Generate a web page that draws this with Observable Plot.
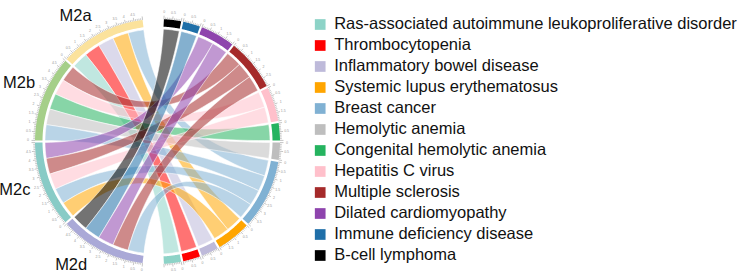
<!DOCTYPE html>
<html><head><meta charset="utf-8">
<script src="https://cdn.jsdelivr.net/npm/d3@7"></script>
<script src="https://cdn.jsdelivr.net/npm/@observablehq/plot@0.6"></script>
<style>
html,body{margin:0;padding:0;background:#fff;}
#chart{display:flex;width:744px;height:280px;overflow:hidden;font-family:"Liberation Sans",Arial,sans-serif;}
#chart svg{display:block;}
</style></head><body><div id="chart"></div><script>
// ---- data ----
const modules = ["M2a", "M2b", "M2c", "M2d"];
const moduleColors = ["#fbe29c", "#a5cf89", "#88cbc6", "#aaa9d7"];
const diseases = [
  "Ras-associated autoimmune leukoproliferative disorder",
  "Thrombocytopenia",
  "Inflammatory bowel disease",
  "Systemic lupus erythematosus",
  "Breast cancer",
  "Hemolytic anemia",
  "Congenital hemolytic anemia",
  "Hepatitis C virus",
  "Multiple sclerosis",
  "Dilated cardiomyopathy",
  "Immune deficiency disease",
  "B-cell lymphoma"
];
const diseaseColors = ["#8dd3c7", "#ff0000", "#bebada", "#ffa500", "#80b1d3", "#bebebe",
  "#25b35f", "#ffc0cb", "#a52a2a", "#8e44ad", "#1f6fa8", "#000000"];
const links = [
  ["M2a", "Breast cancer", 1], ["M2a", "Systemic lupus erythematosus", 1], ["M2a", "Inflammatory bowel disease", 1],
  ["M2a", "Thrombocytopenia", 1], ["M2a", "Ras-associated autoimmune leukoproliferative disorder", 1],
  ["M2b", "Multiple sclerosis", 1], ["M2b", "Hepatitis C virus", 1], ["M2b", "Congenital hemolytic anemia", 1],
  ["M2b", "Hemolytic anemia", 1], ["M2b", "Breast cancer", 1],
  ["M2c", "Dilated cardiomyopathy", 1], ["M2c", "Multiple sclerosis", 1], ["M2c", "Hepatitis C virus", 1],
  ["M2c", "Breast cancer", 1], ["M2c", "Systemic lupus erythematosus", 1],
  ["M2d", "B-cell lymphoma", 1], ["M2d", "Immune deficiency disease", 1], ["M2d", "Dilated cardiomyopathy", 1],
  ["M2d", "Multiple sclerosis", 1], ["M2d", "Breast cancer", 1]
];

// ---- chord layout ----
const DEG = Math.PI / 180;
const startAngle = 3, smallGap = 1, bigGap = 10;
const rOuter = 122.5, rInner = 115, rRibbon = 112.5;
const totalUnits = 2 * d3.sum(links, l => l[2]);
const unit = (360 - 2 * bigGap - (diseases.length - 1 + modules.length - 1) * smallGap) / totalUnits;
const cwDiseases = diseases.slice().reverse();
const cwModules = modules.slice().reverse();

const sectors = [];
let ang = startAngle;
cwDiseases.forEach((d, i) => {
  const v = d3.sum(links.filter(l => l[1] === d), l => l[2]);
  sectors.push({name: d, kind: "disease", color: diseaseColors[diseases.indexOf(d)], a0: ang, a1: ang + v * unit, total: v});
  ang += v * unit + (i < cwDiseases.length - 1 ? smallGap : bigGap);
});
cwModules.forEach((m, i) => {
  const v = d3.sum(links.filter(l => l[0] === m), l => l[2]);
  sectors.push({name: m, kind: "module", color: moduleColors[modules.indexOf(m)], a0: ang, a1: ang + v * unit, total: v});
  ang += v * unit + smallGap;
});
const sec = new Map(sectors.map(s => [s.name, s]));

const linkAngles = links.map(l => ({m: l[0], d: l[1], v: l[2]}));
for (const m of modules) {
  let a = sec.get(m).a0;
  linkAngles.filter(l => l.m === m)
    .sort((p, q) => cwDiseases.indexOf(q.d) - cwDiseases.indexOf(p.d))
    .forEach(l => { l.ma0 = a; l.ma1 = a + l.v * unit; a = l.ma1; });
}
for (const d of diseases) {
  let a = sec.get(d).a0;
  linkAngles.filter(l => l.d === d)
    .sort((p, q) => cwModules.indexOf(q.m) - cwModules.indexOf(p.m))
    .forEach(l => { l.da0 = a; l.da1 = a + l.v * unit; a = l.da1; });
}

const pt = (r, t) => [r * Math.sin(t * DEG), -r * Math.cos(t * DEG)];
function arcPts(r, t0, t1, n = 24) {
  const out = [];
  for (let i = 0; i <= n; i++) out.push(pt(r, t0 + (t1 - t0) * i / n));
  return out;
}
function bez(p0, p2, n = 40) {
  const out = [];
  for (let i = 1; i < n; i++) {
    const t = i / n, k0 = (1 - t) * (1 - t), k2 = t * t;
    out.push([k0 * p0[0] + k2 * p2[0], k0 * p0[1] + k2 * p2[1]]);
  }
  return out;
}

const ribbonPts = [];
linkAngles.forEach((l, i) => {
  const A = arcPts(rRibbon, l.ma0, l.ma1, 12);
  const B = arcPts(rRibbon, l.da0, l.da1, 12);
  const poly = [...A, ...bez(A[A.length - 1], B[0]), ...B, ...bez(B[B.length - 1], A[0])];
  const color = diseaseColors[diseases.indexOf(l.d)];
  poly.forEach(p => ribbonPts.push({id: i, x: p[0], y: p[1], color}));
});

const trackPts = [];
sectors.forEach((s, i) => {
  const poly = [...arcPts(rOuter, s.a0, s.a1, 40), ...arcPts(rInner, s.a1, s.a0, 40)];
  poly.forEach(p => trackPts.push({id: i, x: p[0], y: p[1], color: s.color}));
});

const ticks = [];
sectors.forEach(s => {
  const n = Math.round(s.total * 10);
  for (let k = 0; k <= n; k++) {
    const t = s.a0 + k * unit / 10;
    const major = k % 5 === 0;
    const p1 = pt(rOuter, t), p2 = pt(rOuter + (major ? 3.5 : 1.8), t), p3 = pt(rOuter + 7, t);
    ticks.push({x1: p1[0], y1: p1[1], x2: p2[0], y2: p2[1], major, labelled: major && k < n,
      lx: p3[0], ly: p3[1], label: d3.format("~g")(k / 10)});
  }
});

const moduleLabels = modules.map(m => {
  const s = sec.get(m);
  const mid = (s.a0 + s.a1) / 2 - 360;
  const t = Math.max(-145, Math.min(-33, mid + 2.3));
  const p = pt(150.5, t);
  return {name: m, x: p[0], y: p[1]};
});

const chord = Plot.plot({
  width: 300, height: 280, margin: 0,
  x: {domain: [-157, 143], range: [0, 300], axis: null},
  y: {domain: [-141, 139], range: [0, 280], axis: null},
  color: {type: "identity"},
  style: {background: "white", fontFamily: "Liberation Sans, Arial, sans-serif"},
  marks: [
    Plot.line(ribbonPts, {x: "x", y: "y", z: "id", fill: "color", fillOpacity: 0.55, stroke: "white", strokeWidth: 0.6, strokeOpacity: 0.9, curve: "linear-closed"}),
    Plot.line(trackPts, {x: "x", y: "y", z: "id", fill: "color", stroke: null, curve: "linear-closed"}),
    Plot.link(ticks, {x1: "x1", y1: "y1", x2: "x2", y2: "y2", stroke: "#8a8a8a", strokeWidth: 0.5}),
    Plot.text(ticks.filter(t => t.labelled), {x: "lx", y: "ly", text: "label", fontSize: 3.5, fill: "#999"}),
    Plot.text(moduleLabels, {x: "x", y: "y", text: "name", fontSize: 16.5, fill: "#111"})
  ]
});

const legend = Plot.plot({
  width: 444, height: 280, margin: 0,
  x: {domain: [0, 1], range: [19.7, 444], axis: null},
  y: {type: "point", domain: diseases, range: [21.5, 257.8], padding: 0, axis: null},
  color: {type: "identity"},
  style: {background: "white", fontFamily: "Liberation Sans, Arial, sans-serif"},
  marks: [
    Plot.dot(diseases, {x: () => 0, y: d => d, symbol: "square", r: 6.04, fill: (d, i) => diseaseColors[i], stroke: null}),
    Plot.text(diseases, {x: () => 0, y: d => d, text: d => d, dx: 14, dy: -0.8, textAnchor: "start", fontSize: 16.5, fill: "#111"})
  ]
});

const host = document.getElementById("chart");
host.appendChild(chord);
host.appendChild(legend);
</script></body></html>
